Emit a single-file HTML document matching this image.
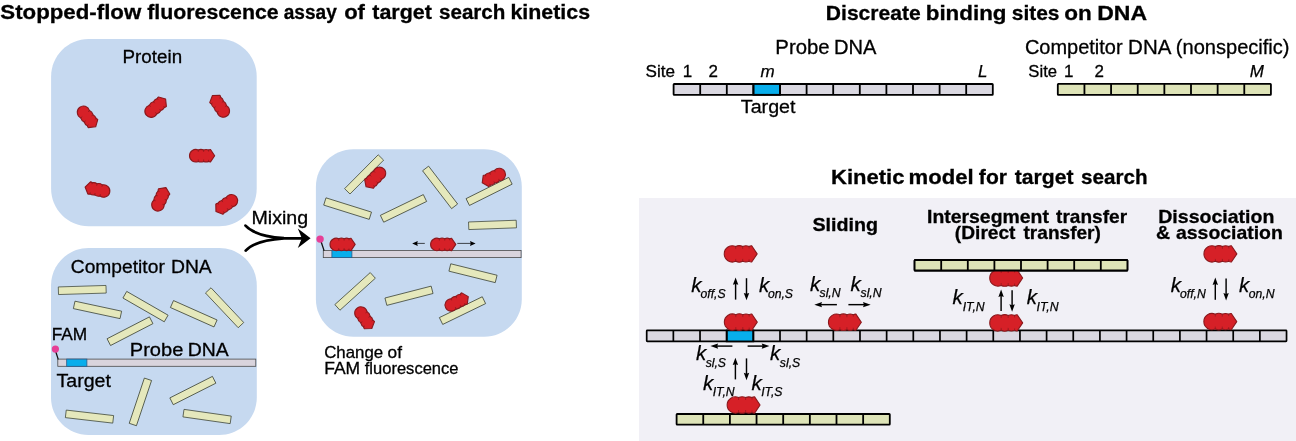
<!DOCTYPE html>
<html lang="en"><head><meta charset="utf-8"><title>Target search kinetics</title>
<style>
html,body{margin:0;padding:0;background:#fff;}
body{width:1296px;height:441px;overflow:hidden;font-family:"Liberation Sans",sans-serif;}
svg{display:block;will-change:transform;}
text{font-family:"Liberation Sans",sans-serif;fill:#000;}
.r{stroke:#000;stroke-width:0.3px}
.b{font-weight:bold;stroke:#000;stroke-width:0.3px}
.i{font-style:italic;stroke:#000;stroke-width:0.25px}
</style></head><body>
<svg width="1296" height="441" viewBox="0 0 1296 441">
<text y="18.7" font-size="20.7" class="b"><tspan x="0.29" textLength="140.95" lengthAdjust="spacingAndGlyphs">Stopped-flow</tspan> <tspan x="147.18" textLength="131.56" lengthAdjust="spacingAndGlyphs">fluorescence</tspan> <tspan x="283.68" textLength="53.09" lengthAdjust="spacingAndGlyphs">assay</tspan> <tspan x="344.17" textLength="20.80" lengthAdjust="spacingAndGlyphs">of</tspan> <tspan x="372.29" textLength="59.65" lengthAdjust="spacingAndGlyphs">target</tspan> <tspan x="438.98" textLength="66.45" lengthAdjust="spacingAndGlyphs">search</tspan> <tspan x="510.46" textLength="79.63" lengthAdjust="spacingAndGlyphs">kinetics</tspan></text>
<path d="M51.1,76.6 C51.1,55.9 67.9,39.1 88.6,39.1 H219.2 C239.89999999999998,39.1 256.7,55.9 256.7,76.6 V188.79999999999998 C256.7,209.5 239.89999999999998,226.29999999999998 219.2,226.29999999999998 H88.6 C67.9,226.29999999999998 51.1,209.5 51.1,188.79999999999998 Z" fill="#c6d9f0"/>
<path d="M51,285.5 C51,264.8 67.8,248 88.5,248 H219.3 C240.0,248 256.8,264.8 256.8,285.5 V397.5 C256.8,418.2 240.0,435 219.3,435 H88.5 C67.8,435 51,418.2 51,397.5 Z" fill="#c6d9f0"/>
<path d="M315.9,186.8 C315.9,166.10000000000002 332.7,149.3 353.4,149.3 H484.29999999999995 C504.99999999999994,149.3 521.8,166.10000000000002 521.8,186.8 V299.3 C521.8,320.0 504.99999999999994,336.8 484.29999999999995,336.8 H353.4 C332.7,336.8 315.9,320.0 315.9,299.3 Z" fill="#c6d9f0"/>
<text x="122.60" y="62.8" font-size="18.7" class="r" textLength="59.50" lengthAdjust="spacingAndGlyphs">Protein</text>
<g transform="translate(87.8,117.4) rotate(50) scale(0.765)"><path d="M-5.4,-7.45 A8,8 0 0 1 1.6,-7.45 A8,8 0 0 1 8,-7.45 Q9.3,-8.25 10.6,-8.1 L16.05,0 L10.6,8.1 Q9.3,8.25 8,7.45 A8,8 0 0 1 1.6,7.45 A8,8 0 0 1 -5.4,7.45 A8.15,8.15 0 1 1 -5.4,-7.45 Z" fill="#d62027" stroke="#8a181c" stroke-width="1.44" stroke-linejoin="round"/><path d="M-5.4,-7.6V-5.4M1.6,-7.6V-5.4M8,-7.6V-5.9M-5.4,7.6V5.4M1.6,7.6V5.4M8,7.6V5.9" fill="none" stroke="#8a181c" stroke-width="1.18" stroke-linecap="round" opacity="0.75"/></g>
<g transform="translate(156.2,106.9) rotate(-40) scale(0.765)"><path d="M-5.4,-7.45 A8,8 0 0 1 1.6,-7.45 A8,8 0 0 1 8,-7.45 Q9.3,-8.25 10.6,-8.1 L16.05,0 L10.6,8.1 Q9.3,8.25 8,7.45 A8,8 0 0 1 1.6,7.45 A8,8 0 0 1 -5.4,7.45 A8.15,8.15 0 1 1 -5.4,-7.45 Z" fill="#d62027" stroke="#8a181c" stroke-width="1.44" stroke-linejoin="round"/><path d="M-5.4,-7.6V-5.4M1.6,-7.6V-5.4M8,-7.6V-5.9M-5.4,7.6V5.4M1.6,7.6V5.4M8,7.6V5.9" fill="none" stroke="#8a181c" stroke-width="1.18" stroke-linecap="round" opacity="0.75"/></g>
<g transform="translate(219.5,105.5) rotate(235) scale(0.765)"><path d="M-5.4,-7.45 A8,8 0 0 1 1.6,-7.45 A8,8 0 0 1 8,-7.45 Q9.3,-8.25 10.6,-8.1 L16.05,0 L10.6,8.1 Q9.3,8.25 8,7.45 A8,8 0 0 1 1.6,7.45 A8,8 0 0 1 -5.4,7.45 A8.15,8.15 0 1 1 -5.4,-7.45 Z" fill="#d62027" stroke="#8a181c" stroke-width="1.44" stroke-linejoin="round"/><path d="M-5.4,-7.6V-5.4M1.6,-7.6V-5.4M8,-7.6V-5.9M-5.4,7.6V5.4M1.6,7.6V5.4M8,7.6V5.9" fill="none" stroke="#8a181c" stroke-width="1.18" stroke-linecap="round" opacity="0.75"/></g>
<g transform="translate(202.4,155.7) rotate(0) scale(0.765)"><path d="M-5.4,-7.45 A8,8 0 0 1 1.6,-7.45 A8,8 0 0 1 8,-7.45 Q9.3,-8.25 10.6,-8.1 L16.05,0 L10.6,8.1 Q9.3,8.25 8,7.45 A8,8 0 0 1 1.6,7.45 A8,8 0 0 1 -5.4,7.45 A8.15,8.15 0 1 1 -5.4,-7.45 Z" fill="#d62027" stroke="#8a181c" stroke-width="1.44" stroke-linejoin="round"/><path d="M-5.4,-7.6V-5.4M1.6,-7.6V-5.4M8,-7.6V-5.9M-5.4,7.6V5.4M1.6,7.6V5.4M8,7.6V5.9" fill="none" stroke="#8a181c" stroke-width="1.18" stroke-linecap="round" opacity="0.75"/></g>
<g transform="translate(97.1,189.6) rotate(192) scale(0.765)"><path d="M-5.4,-7.45 A8,8 0 0 1 1.6,-7.45 A8,8 0 0 1 8,-7.45 Q9.3,-8.25 10.6,-8.1 L16.05,0 L10.6,8.1 Q9.3,8.25 8,7.45 A8,8 0 0 1 1.6,7.45 A8,8 0 0 1 -5.4,7.45 A8.15,8.15 0 1 1 -5.4,-7.45 Z" fill="#d62027" stroke="#8a181c" stroke-width="1.44" stroke-linejoin="round"/><path d="M-5.4,-7.6V-5.4M1.6,-7.6V-5.4M8,-7.6V-5.9M-5.4,7.6V5.4M1.6,7.6V5.4M8,7.6V5.9" fill="none" stroke="#8a181c" stroke-width="1.18" stroke-linecap="round" opacity="0.75"/></g>
<g transform="translate(160.75,198.75) rotate(-65) scale(0.765)"><path d="M-5.4,-7.45 A8,8 0 0 1 1.6,-7.45 A8,8 0 0 1 8,-7.45 Q9.3,-8.25 10.6,-8.1 L16.05,0 L10.6,8.1 Q9.3,8.25 8,7.45 A8,8 0 0 1 1.6,7.45 A8,8 0 0 1 -5.4,7.45 A8.15,8.15 0 1 1 -5.4,-7.45 Z" fill="#d62027" stroke="#8a181c" stroke-width="1.44" stroke-linejoin="round"/><path d="M-5.4,-7.6V-5.4M1.6,-7.6V-5.4M8,-7.6V-5.9M-5.4,7.6V5.4M1.6,7.6V5.4M8,7.6V5.9" fill="none" stroke="#8a181c" stroke-width="1.18" stroke-linecap="round" opacity="0.75"/></g>
<g transform="translate(226,204.5) rotate(145) scale(0.765)"><path d="M-5.4,-7.45 A8,8 0 0 1 1.6,-7.45 A8,8 0 0 1 8,-7.45 Q9.3,-8.25 10.6,-8.1 L16.05,0 L10.6,8.1 Q9.3,8.25 8,7.45 A8,8 0 0 1 1.6,7.45 A8,8 0 0 1 -5.4,7.45 A8.15,8.15 0 1 1 -5.4,-7.45 Z" fill="#d62027" stroke="#8a181c" stroke-width="1.44" stroke-linejoin="round"/><path d="M-5.4,-7.6V-5.4M1.6,-7.6V-5.4M8,-7.6V-5.9M-5.4,7.6V5.4M1.6,7.6V5.4M8,7.6V5.9" fill="none" stroke="#8a181c" stroke-width="1.18" stroke-linecap="round" opacity="0.75"/></g>
<text y="273" font-size="18.8" class="r"><tspan x="70.79" textLength="94.01" lengthAdjust="spacingAndGlyphs">Competitor</tspan> <tspan x="170.95" textLength="40.82" lengthAdjust="spacingAndGlyphs">DNA</tspan></text>
<rect x="-23.85" y="-3.8" width="47.7" height="7.6" transform="translate(82.25,290) rotate(-1.8)" fill="#e5e8bc" stroke="#333a2c" stroke-width="0.7"/>
<rect x="-23.85" y="-3.8" width="47.7" height="7.6" transform="translate(97.5,309.9) rotate(12.1)" fill="#e5e8bc" stroke="#333a2c" stroke-width="0.7"/>
<rect x="-23.85" y="-3.8" width="47.7" height="7.6" transform="translate(145.5,306.6) rotate(29.9)" fill="#e5e8bc" stroke="#333a2c" stroke-width="0.7"/>
<rect x="-23.85" y="-3.8" width="47.7" height="7.6" transform="translate(193.75,313.75) rotate(24)" fill="#e5e8bc" stroke="#333a2c" stroke-width="0.7"/>
<rect x="-23.85" y="-3.8" width="47.7" height="7.6" transform="translate(224.6,307.75) rotate(46.7)" fill="#e5e8bc" stroke="#333a2c" stroke-width="0.7"/>
<rect x="-23.85" y="-3.8" width="47.7" height="7.6" transform="translate(130,331.2) rotate(-27.3)" fill="#e5e8bc" stroke="#333a2c" stroke-width="0.7"/>
<rect x="-23.85" y="-3.8" width="47.7" height="7.6" transform="translate(89.5,416.6) rotate(6.6)" fill="#e5e8bc" stroke="#333a2c" stroke-width="0.7"/>
<rect x="-23.85" y="-3.8" width="47.7" height="7.6" transform="translate(140.4,401.9) rotate(-71.5)" fill="#e5e8bc" stroke="#333a2c" stroke-width="0.7"/>
<rect x="-23.85" y="-3.8" width="47.7" height="7.6" transform="translate(192.85,390.55) rotate(-26.8)" fill="#e5e8bc" stroke="#333a2c" stroke-width="0.7"/>
<rect x="-23.85" y="-3.8" width="47.7" height="7.6" transform="translate(207.1,416.5) rotate(8.1)" fill="#e5e8bc" stroke="#333a2c" stroke-width="0.7"/>
<rect x="57.8" y="359.1" width="198" height="7.2" fill="#d9d4dd" stroke="#4a4a4a" stroke-width="0.8"/>
<rect x="66.7" y="359.1" width="20.2" height="7.2" fill="#08aeec" stroke="#2a5a8a" stroke-width="0.8"/>
<path d="M58.2,359.4 L55.6,351" stroke="#111" stroke-width="1.3" fill="none"/>
<circle cx="55.4" cy="349.1" r="3.6" fill="#e63f96"/>
<text x="51.72" y="339.6" font-size="16.0" class="r" textLength="35.47" lengthAdjust="spacingAndGlyphs">FAM</text>
<text y="356" font-size="18.8" class="r"><tspan x="129.79" textLength="53.58" lengthAdjust="spacingAndGlyphs">Probe</tspan> <tspan x="187.75" textLength="40.88" lengthAdjust="spacingAndGlyphs">DNA</tspan></text>
<text x="56.51" y="386.6" font-size="18.8" class="r" textLength="54.38" lengthAdjust="spacingAndGlyphs">Target</text>
<text x="251.43" y="223.8" font-size="18.8" class="r" textLength="56.74" lengthAdjust="spacingAndGlyphs">Mixing</text>
<path d="M245.5,225.6 C250.5,231 261,236.6 284,238.2 L302,238.3 M245.7,250.6 C250.5,245.2 261,240 284,238.4 L302,238.3" stroke="#000000" stroke-width="2.7" fill="none" stroke-linecap="round"/>
<path d="M310.6,238.3 L297.8,228.6 L301.8,238.3 L297.8,248 Z" fill="#000000"/>
<rect x="-23.85" y="-3.8" width="47.7" height="7.6" transform="translate(364.1,174.4) rotate(-45.2)" fill="#e5e8bc" stroke="#333a2c" stroke-width="0.7"/>
<rect x="-23.85" y="-3.8" width="47.7" height="7.6" transform="translate(440.1,187.4) rotate(52.5)" fill="#e5e8bc" stroke="#333a2c" stroke-width="0.7"/>
<rect x="-23.85" y="-3.8" width="47.7" height="7.6" transform="translate(489.1,191.4) rotate(-26.5)" fill="#e5e8bc" stroke="#333a2c" stroke-width="0.7"/>
<rect x="-23.85" y="-3.8" width="47.7" height="7.6" transform="translate(347.6,208.6) rotate(17.4)" fill="#e5e8bc" stroke="#333a2c" stroke-width="0.7"/>
<rect x="-23.85" y="-3.8" width="47.7" height="7.6" transform="translate(403.5,208.4) rotate(-25.8)" fill="#e5e8bc" stroke="#333a2c" stroke-width="0.7"/>
<rect x="-23.85" y="-3.8" width="47.7" height="7.6" transform="translate(492.5,224.9) rotate(-2.1)" fill="#e5e8bc" stroke="#333a2c" stroke-width="0.7"/>
<rect x="-23.85" y="-3.8" width="47.7" height="7.6" transform="translate(473,273.2) rotate(13.9)" fill="#e5e8bc" stroke="#333a2c" stroke-width="0.7"/>
<rect x="-23.85" y="-3.8" width="47.7" height="7.6" transform="translate(355.1,291.4) rotate(-42.1)" fill="#e5e8bc" stroke="#333a2c" stroke-width="0.7"/>
<rect x="-23.85" y="-3.8" width="47.7" height="7.6" transform="translate(409,295.75) rotate(-14.4)" fill="#e5e8bc" stroke="#333a2c" stroke-width="0.7"/>
<rect x="-23.85" y="-3.8" width="47.7" height="7.6" transform="translate(462.5,310.6) rotate(-25.9)" fill="#e5e8bc" stroke="#333a2c" stroke-width="0.7"/>
<rect x="323.3" y="250.4" width="197.8" height="7.2" fill="#d9d4dd" stroke="#4a4a4a" stroke-width="0.8"/>
<rect x="331.9" y="250.4" width="20" height="7.2" fill="#08aeec" stroke="#2a5a8a" stroke-width="0.8"/>
<path d="M324.1,250.6 L321.2,242" stroke="#111" stroke-width="1.3" fill="none"/>
<circle cx="320.1" cy="239.1" r="3.7" fill="#e63f96"/>
<g transform="translate(374.75,178.1) rotate(135) scale(0.765)"><path d="M-5.4,-7.45 A8,8 0 0 1 1.6,-7.45 A8,8 0 0 1 8,-7.45 Q9.3,-8.25 10.6,-8.1 L16.05,0 L10.6,8.1 Q9.3,8.25 8,7.45 A8,8 0 0 1 1.6,7.45 A8,8 0 0 1 -5.4,7.45 A8.15,8.15 0 1 1 -5.4,-7.45 Z" fill="#d62027" stroke="#8a181c" stroke-width="1.44" stroke-linejoin="round"/><path d="M-5.4,-7.6V-5.4M1.6,-7.6V-5.4M8,-7.6V-5.9M-5.4,7.6V5.4M1.6,7.6V5.4M8,7.6V5.9" fill="none" stroke="#8a181c" stroke-width="1.18" stroke-linecap="round" opacity="0.75"/></g>
<g transform="translate(493.25,177.4) rotate(154) scale(0.765)"><path d="M-5.4,-7.45 A8,8 0 0 1 1.6,-7.45 A8,8 0 0 1 8,-7.45 Q9.3,-8.25 10.6,-8.1 L16.05,0 L10.6,8.1 Q9.3,8.25 8,7.45 A8,8 0 0 1 1.6,7.45 A8,8 0 0 1 -5.4,7.45 A8.15,8.15 0 1 1 -5.4,-7.45 Z" fill="#d62027" stroke="#8a181c" stroke-width="1.44" stroke-linejoin="round"/><path d="M-5.4,-7.6V-5.4M1.6,-7.6V-5.4M8,-7.6V-5.9M-5.4,7.6V5.4M1.6,7.6V5.4M8,7.6V5.9" fill="none" stroke="#8a181c" stroke-width="1.18" stroke-linecap="round" opacity="0.75"/></g>
<g transform="translate(364.75,318.5) rotate(55) scale(0.765)"><path d="M-5.4,-7.45 A8,8 0 0 1 1.6,-7.45 A8,8 0 0 1 8,-7.45 Q9.3,-8.25 10.6,-8.1 L16.05,0 L10.6,8.1 Q9.3,8.25 8,7.45 A8,8 0 0 1 1.6,7.45 A8,8 0 0 1 -5.4,7.45 A8.15,8.15 0 1 1 -5.4,-7.45 Z" fill="#d62027" stroke="#8a181c" stroke-width="1.44" stroke-linejoin="round"/><path d="M-5.4,-7.6V-5.4M1.6,-7.6V-5.4M8,-7.6V-5.9M-5.4,7.6V5.4M1.6,7.6V5.4M8,7.6V5.9" fill="none" stroke="#8a181c" stroke-width="1.18" stroke-linecap="round" opacity="0.75"/></g>
<g transform="translate(457.25,302) rotate(-26) scale(0.765)"><path d="M-5.4,-7.45 A8,8 0 0 1 1.6,-7.45 A8,8 0 0 1 8,-7.45 Q9.3,-8.25 10.6,-8.1 L16.05,0 L10.6,8.1 Q9.3,8.25 8,7.45 A8,8 0 0 1 1.6,7.45 A8,8 0 0 1 -5.4,7.45 A8.15,8.15 0 1 1 -5.4,-7.45 Z" fill="#d62027" stroke="#8a181c" stroke-width="1.44" stroke-linejoin="round"/><path d="M-5.4,-7.6V-5.4M1.6,-7.6V-5.4M8,-7.6V-5.9M-5.4,7.6V5.4M1.6,7.6V5.4M8,7.6V5.9" fill="none" stroke="#8a181c" stroke-width="1.18" stroke-linecap="round" opacity="0.75"/></g>
<g transform="translate(342.9,244.4) rotate(0) scale(0.765)"><path d="M-5.4,-7.45 A8,8 0 0 1 1.6,-7.45 A8,8 0 0 1 8,-7.45 Q9.3,-8.25 10.6,-8.1 L16.05,0 L10.6,8.1 Q9.3,8.25 8,7.45 A8,8 0 0 1 1.6,7.45 A8,8 0 0 1 -5.4,7.45 A8.15,8.15 0 1 1 -5.4,-7.45 Z" fill="#d62027" stroke="#8a181c" stroke-width="1.44" stroke-linejoin="round"/><path d="M-5.4,-7.6V-5.4M1.6,-7.6V-5.4M8,-7.6V-5.9M-5.4,7.6V5.4M1.6,7.6V5.4M8,7.6V5.9" fill="none" stroke="#8a181c" stroke-width="1.18" stroke-linecap="round" opacity="0.75"/></g>
<g transform="translate(443.5,244.4) rotate(0) scale(0.765)"><path d="M-5.4,-7.45 A8,8 0 0 1 1.6,-7.45 A8,8 0 0 1 8,-7.45 Q9.3,-8.25 10.6,-8.1 L16.05,0 L10.6,8.1 Q9.3,8.25 8,7.45 A8,8 0 0 1 1.6,7.45 A8,8 0 0 1 -5.4,7.45 A8.15,8.15 0 1 1 -5.4,-7.45 Z" fill="#d62027" stroke="#8a181c" stroke-width="1.44" stroke-linejoin="round"/><path d="M-5.4,-7.6V-5.4M1.6,-7.6V-5.4M8,-7.6V-5.9M-5.4,7.6V5.4M1.6,7.6V5.4M8,7.6V5.9" fill="none" stroke="#8a181c" stroke-width="1.18" stroke-linecap="round" opacity="0.75"/></g>
<path d="M424.8,243.4H416.68" stroke="#000000" stroke-width="0.7" fill="none"/>
<path d="M412.2,243.4L417.8,240.9L417.128,243.4L417.8,245.9Z" fill="#000000"/>
<path d="M457.3,243.4H471.12" stroke="#000000" stroke-width="0.7" fill="none"/>
<path d="M475.6,243.4L470.0,240.9L470.672,243.4L470.0,245.9Z" fill="#000000"/>
<text y="357.6" font-size="16.2" class="r"><tspan x="324.16" textLength="58.97" lengthAdjust="spacingAndGlyphs">Change</tspan> <tspan x="387.61" textLength="14.37" lengthAdjust="spacingAndGlyphs">of</tspan></text>
<text y="373.6" font-size="16.2" class="r"><tspan x="324.20" textLength="35.91" lengthAdjust="spacingAndGlyphs">FAM</tspan> <tspan x="364.79" textLength="93.71" lengthAdjust="spacingAndGlyphs">fluorescence</tspan></text>
<text y="19.5" font-size="20.8" class="b"><tspan x="825.83" textLength="94.87" lengthAdjust="spacingAndGlyphs">Discreate</tspan> <tspan x="925.75" textLength="80.71" lengthAdjust="spacingAndGlyphs">binding</tspan> <tspan x="1011.77" textLength="47.76" lengthAdjust="spacingAndGlyphs">sites</tspan> <tspan x="1064.15" textLength="27.54" lengthAdjust="spacingAndGlyphs">on</tspan> <tspan x="1097.20" textLength="49.85" lengthAdjust="spacingAndGlyphs">DNA</tspan></text>
<text y="53.5" font-size="19.8" class="r"><tspan x="775.37" textLength="54.26" lengthAdjust="spacingAndGlyphs">Probe</tspan> <tspan x="834.14" textLength="42.38" lengthAdjust="spacingAndGlyphs">DNA</tspan></text>
<text y="53.6" font-size="19.8" class="r"><tspan x="1024.90" textLength="97.71" lengthAdjust="spacingAndGlyphs">Competitor</tspan> <tspan x="1128.10" textLength="42.12" lengthAdjust="spacingAndGlyphs">DNA</tspan> <tspan x="1175.80" textLength="113.74" lengthAdjust="spacingAndGlyphs">(nonspecific)</tspan></text>
<text x="645.63" y="76.9" font-size="16" class="r" textLength="29.41" lengthAdjust="spacingAndGlyphs">Site</text>
<text x="682.86" y="76.9" font-size="16" class="r" textLength="9.43" lengthAdjust="spacingAndGlyphs">1</text>
<text x="708.52" y="76.9" font-size="16" class="r" textLength="9.43" lengthAdjust="spacingAndGlyphs">2</text>
<text x="760.54" y="76.9" font-size="16" class="i" textLength="14.13" lengthAdjust="spacingAndGlyphs">m</text>
<text x="977.91" y="76.9" font-size="16" class="i" textLength="9.43" lengthAdjust="spacingAndGlyphs">L</text>
<text x="1028.35" y="76.9" font-size="16" class="r" textLength="28.67" lengthAdjust="spacingAndGlyphs">Site</text>
<text x="1063.91" y="76.9" font-size="16" class="r" textLength="9.43" lengthAdjust="spacingAndGlyphs">1</text>
<text x="1094.57" y="76.9" font-size="16" class="r" textLength="9.43" lengthAdjust="spacingAndGlyphs">2</text>
<text x="1249.66" y="76.9" font-size="16" class="i" textLength="14.13" lengthAdjust="spacingAndGlyphs">M</text>
<rect x="673.6" y="84.0" width="319.20000000000005" height="10.8" rx="0.6" fill="#dad8e1" stroke="#000000" stroke-width="1.8"/>
<rect x="753.4000000000001" y="84.0" width="26.6" height="10.8" fill="#08aeec" stroke="#000000" stroke-width="1.8"/>
<path d="M700.20,84.0v10.8M726.80,84.0v10.8M753.40,84.0v10.8M780.00,84.0v10.8M806.60,84.0v10.8M833.20,84.0v10.8M859.80,84.0v10.8M886.40,84.0v10.8M913.00,84.0v10.8M939.60,84.0v10.8M966.20,84.0v10.8" stroke="#000000" stroke-width="1.8" fill="none"/>
<rect x="1057.8" y="83.9" width="213.12" height="10.9" rx="0.6" fill="#dee4b8" stroke="#000000" stroke-width="1.8"/>
<path d="M1084.44,83.9v10.9M1111.08,83.9v10.9M1137.72,83.9v10.9M1164.36,83.9v10.9M1191.00,83.9v10.9M1217.64,83.9v10.9M1244.28,83.9v10.9" stroke="#000000" stroke-width="1.8" fill="none"/>
<text x="740.81" y="113.0" font-size="19.2" class="r" textLength="54.68" lengthAdjust="spacingAndGlyphs">Target</text>
<text y="183.6" font-size="20.8" class="b"><tspan x="830.97" textLength="73.47" lengthAdjust="spacingAndGlyphs">Kinetic</tspan> <tspan x="908.57" textLength="64.98" lengthAdjust="spacingAndGlyphs">model</tspan> <tspan x="978.88" textLength="28.09" lengthAdjust="spacingAndGlyphs">for</tspan> <tspan x="1014.79" textLength="58.74" lengthAdjust="spacingAndGlyphs">target</tspan> <tspan x="1080.98" textLength="66.56" lengthAdjust="spacingAndGlyphs">search</tspan></text>
<rect x="639" y="198" width="657" height="243" fill="#f1f0f6"/>
<text x="812.46" y="231.2" font-size="19.0" class="b" textLength="65.58" lengthAdjust="spacingAndGlyphs">Sliding</text>
<text y="222.5" font-size="19.0" class="b"><tspan x="927.04" textLength="121.85" lengthAdjust="spacingAndGlyphs">Intersegment</tspan> <tspan x="1056.11" textLength="70.95" lengthAdjust="spacingAndGlyphs">transfer</tspan></text>
<text y="239.1" font-size="19.0" class="b"><tspan x="954.89" textLength="60.60" lengthAdjust="spacingAndGlyphs">(Direct</tspan> <tspan x="1023.51" textLength="77.38" lengthAdjust="spacingAndGlyphs">transfer)</tspan></text>
<text x="1158.23" y="222.5" font-size="19.0" class="b" textLength="116.21" lengthAdjust="spacingAndGlyphs">Dissociation</text>
<text y="239.1" font-size="19.0" class="b"><tspan x="1155.97" textLength="14.11" lengthAdjust="spacingAndGlyphs">&amp;</tspan> <tspan x="1175.97" textLength="106.89" lengthAdjust="spacingAndGlyphs">association</tspan></text>
<rect x="646.7" y="330.4" width="639.84" height="11.0" rx="0.6" fill="#dad8e1" stroke="#000000" stroke-width="1.7"/>
<rect x="726.6800000000001" y="330.4" width="26.66" height="11.0" fill="#08aeec" stroke="#000000" stroke-width="1.7"/>
<path d="M673.36,330.4v11.0M700.02,330.4v11.0M726.68,330.4v11.0M753.34,330.4v11.0M780.00,330.4v11.0M806.66,330.4v11.0M833.32,330.4v11.0M859.98,330.4v11.0M886.64,330.4v11.0M913.30,330.4v11.0M939.96,330.4v11.0M966.62,330.4v11.0M993.28,330.4v11.0M1019.94,330.4v11.0M1046.60,330.4v11.0M1073.26,330.4v11.0M1099.92,330.4v11.0M1126.58,330.4v11.0M1153.24,330.4v11.0M1179.90,330.4v11.0M1206.56,330.4v11.0M1233.22,330.4v11.0M1259.88,330.4v11.0" stroke="#000000" stroke-width="1.7" fill="none"/>
<rect x="676.6" y="414.0" width="213.2" height="10.7" rx="0.6" fill="#dee4b8" stroke="#000000" stroke-width="1.8"/>
<path d="M703.25,414.0v10.7M729.90,414.0v10.7M756.55,414.0v10.7M783.20,414.0v10.7M809.85,414.0v10.7M836.50,414.0v10.7M863.15,414.0v10.7" stroke="#000000" stroke-width="1.8" fill="none"/>
<rect x="914.6" y="260.0" width="212.8" height="10.5" rx="0.6" fill="#dee4b8" stroke="#000000" stroke-width="1.8"/>
<path d="M941.20,260.0v10.5M967.80,260.0v10.5M994.40,260.0v10.5M1021.00,260.0v10.5M1047.60,260.0v10.5M1074.20,260.0v10.5M1100.80,260.0v10.5" stroke="#000000" stroke-width="1.8" fill="none"/>
<text class="i"><tspan x="691.29" y="291.6" font-size="20.5">k</tspan><tspan x="700.50" y="298.0" font-size="12.2">off,S</tspan></text>
<text class="i"><tspan x="758.99" y="291.6" font-size="20.5">k</tspan><tspan x="767.90" y="298.0" font-size="12.2">on,S</tspan></text>
<text class="i"><tspan x="810.09" y="290.6" font-size="20.5">k</tspan><tspan x="819.57" y="297.0" font-size="12.2">sl,N</tspan></text>
<text class="i"><tspan x="850.59" y="290.6" font-size="20.5">k</tspan><tspan x="860.57" y="297.0" font-size="12.2">sl,N</tspan></text>
<text class="i"><tspan x="695.99" y="360.1" font-size="20.5">k</tspan><tspan x="705.67" y="366.5" font-size="12.2">sl,S</tspan></text>
<text class="i"><tspan x="770.09" y="360.1" font-size="20.5">k</tspan><tspan x="779.87" y="366.5" font-size="12.2">sl,S</tspan></text>
<text class="i"><tspan x="702.99" y="389.7" font-size="20.5">k</tspan><tspan x="712.74" y="396.1" font-size="12.2">IT,N</tspan></text>
<text class="i"><tspan x="751.49" y="389.7" font-size="20.5">k</tspan><tspan x="761.24" y="396.1" font-size="12.2">IT,S</tspan></text>
<text class="i"><tspan x="952.59" y="304.2" font-size="20.5">k</tspan><tspan x="962.74" y="310.6" font-size="12.2">IT,N</tspan></text>
<text class="i"><tspan x="1026.79" y="304.2" font-size="20.5">k</tspan><tspan x="1036.54" y="310.6" font-size="12.2">IT,N</tspan></text>
<text class="i"><tspan x="1170.69" y="292" font-size="20.5">k</tspan><tspan x="1180.00" y="298.4" font-size="12.2">off,N</tspan></text>
<text class="i"><tspan x="1239.09" y="292" font-size="20.5">k</tspan><tspan x="1248.80" y="298.4" font-size="12.2">on,N</tspan></text>
<path d="M735.6,299.6V283.32" stroke="#000000" stroke-width="1.45" fill="none"/>
<path d="M735.6,277.4L732.9,284.79999999999995L735.6,283.912L738.3000000000001,284.79999999999995Z" fill="#000000"/>
<path d="M746.5,278.2V294.38" stroke="#000000" stroke-width="1.45" fill="none"/>
<path d="M746.5,300.3L743.8,292.90000000000003L746.5,293.788L749.2,292.90000000000003Z" fill="#000000"/>
<path d="M836.9,304.65H820.4599999999999" stroke="#000000" stroke-width="1.45" fill="none"/>
<path d="M814.3,304.65L822.0,301.95L821.0759999999999,304.65L822.0,307.34999999999997Z" fill="#000000"/>
<path d="M848.4,304.65H864.5400000000001" stroke="#000000" stroke-width="1.45" fill="none"/>
<path d="M870.7,304.65L863.0,301.95L863.9240000000001,304.65L863.0,307.34999999999997Z" fill="#000000"/>
<path d="M732.4,346.1H716.56" stroke="#000000" stroke-width="1.45" fill="none"/>
<path d="M710.4,346.1L718.1,343.40000000000003L717.1759999999999,346.1L718.1,348.8Z" fill="#000000"/>
<path d="M747.6,346.1H763.24" stroke="#000000" stroke-width="1.45" fill="none"/>
<path d="M769.4,346.1L761.6999999999999,343.40000000000003L762.624,346.1L761.6999999999999,348.8Z" fill="#000000"/>
<path d="M735.4,379.4V363.62" stroke="#000000" stroke-width="1.45" fill="none"/>
<path d="M735.4,357.7L732.6999999999999,365.09999999999997L735.4,364.212L738.1,365.09999999999997Z" fill="#000000"/>
<path d="M746.5,358.4V374.28" stroke="#000000" stroke-width="1.45" fill="none"/>
<path d="M746.5,380.2L743.8,372.8L746.5,373.688L749.2,372.8Z" fill="#000000"/>
<path d="M1001.1,311V295.52000000000004" stroke="#000000" stroke-width="1.45" fill="none"/>
<path d="M1001.1,289.6L998.4,297.0L1001.1,296.112L1003.8000000000001,297.0Z" fill="#000000"/>
<path d="M1012.1,290.2V305.78" stroke="#000000" stroke-width="1.45" fill="none"/>
<path d="M1012.1,311.7L1009.4,304.3L1012.1,305.188L1014.8000000000001,304.3Z" fill="#000000"/>
<path d="M1215.3,299.8V283.52000000000004" stroke="#000000" stroke-width="1.45" fill="none"/>
<path d="M1215.3,277.6L1212.6,285.0L1215.3,284.112L1218.0,285.0Z" fill="#000000"/>
<path d="M1226.1,278.4V294.58" stroke="#000000" stroke-width="1.45" fill="none"/>
<path d="M1226.1,300.5L1223.3999999999999,293.1L1226.1,293.988L1228.8,293.1Z" fill="#000000"/>
<g transform="translate(741.1,253.9) rotate(0) scale(1)"><path d="M-5.4,-7.45 A8,8 0 0 1 1.6,-7.45 A8,8 0 0 1 8,-7.45 Q9.3,-8.25 10.6,-8.1 L16.05,0 L10.6,8.1 Q9.3,8.25 8,7.45 A8,8 0 0 1 1.6,7.45 A8,8 0 0 1 -5.4,7.45 A8.15,8.15 0 1 1 -5.4,-7.45 Z" fill="#d62027" stroke="#8a181c" stroke-width="1.10" stroke-linejoin="round"/><path d="M-5.4,-7.6V-5.4M1.6,-7.6V-5.4M8,-7.6V-5.9M-5.4,7.6V5.4M1.6,7.6V5.4M8,7.6V5.9" fill="none" stroke="#8a181c" stroke-width="0.90" stroke-linecap="round" opacity="0.75"/></g>
<g transform="translate(741.2,322.1) rotate(0) scale(1)"><path d="M-5.4,-7.45 A8,8 0 0 1 1.6,-7.45 A8,8 0 0 1 8,-7.45 Q9.3,-8.25 10.6,-8.1 L16.05,0 L10.6,8.1 Q9.3,8.25 8,7.45 A8,8 0 0 1 1.6,7.45 A8,8 0 0 1 -5.4,7.45 A8.15,8.15 0 1 1 -5.4,-7.45 Z" fill="#d62027" stroke="#8a181c" stroke-width="1.10" stroke-linejoin="round"/><path d="M-5.4,-7.6V-5.4M1.6,-7.6V-5.4M8,-7.6V-5.9M-5.4,7.6V5.4M1.6,7.6V5.4M8,7.6V5.9" fill="none" stroke="#8a181c" stroke-width="0.90" stroke-linecap="round" opacity="0.75"/></g>
<g transform="translate(845.3,322.2) rotate(0) scale(1)"><path d="M-5.4,-7.45 A8,8 0 0 1 1.6,-7.45 A8,8 0 0 1 8,-7.45 Q9.3,-8.25 10.6,-8.1 L16.05,0 L10.6,8.1 Q9.3,8.25 8,7.45 A8,8 0 0 1 1.6,7.45 A8,8 0 0 1 -5.4,7.45 A8.15,8.15 0 1 1 -5.4,-7.45 Z" fill="#d62027" stroke="#8a181c" stroke-width="1.10" stroke-linejoin="round"/><path d="M-5.4,-7.6V-5.4M1.6,-7.6V-5.4M8,-7.6V-5.9M-5.4,7.6V5.4M1.6,7.6V5.4M8,7.6V5.9" fill="none" stroke="#8a181c" stroke-width="0.90" stroke-linecap="round" opacity="0.75"/></g>
<g transform="translate(744.0,405.0) rotate(0) scale(1)"><path d="M-5.4,-7.45 A8,8 0 0 1 1.6,-7.45 A8,8 0 0 1 8,-7.45 Q9.3,-8.25 10.6,-8.1 L16.05,0 L10.6,8.1 Q9.3,8.25 8,7.45 A8,8 0 0 1 1.6,7.45 A8,8 0 0 1 -5.4,7.45 A8.15,8.15 0 1 1 -5.4,-7.45 Z" fill="#d62027" stroke="#8a181c" stroke-width="1.10" stroke-linejoin="round"/><path d="M-5.4,-7.6V-5.4M1.6,-7.6V-5.4M8,-7.6V-5.9M-5.4,7.6V5.4M1.6,7.6V5.4M8,7.6V5.9" fill="none" stroke="#8a181c" stroke-width="0.90" stroke-linecap="round" opacity="0.75"/></g>
<g transform="translate(1006.6,278) rotate(0) scale(1)"><path d="M-5.4,-7.45 A8,8 0 0 1 1.6,-7.45 A8,8 0 0 1 8,-7.45 Q9.3,-8.25 10.6,-8.1 L16.05,0 L10.6,8.1 Q9.3,8.25 8,7.45 A8,8 0 0 1 1.6,7.45 A8,8 0 0 1 -5.4,7.45 A8.15,8.15 0 1 1 -5.4,-7.45 Z" fill="#d62027" stroke="#8a181c" stroke-width="1.10" stroke-linejoin="round"/><path d="M-5.4,-7.6V-5.4M1.6,-7.6V-5.4M8,-7.6V-5.9M-5.4,7.6V5.4M1.6,7.6V5.4M8,7.6V5.9" fill="none" stroke="#8a181c" stroke-width="0.90" stroke-linecap="round" opacity="0.75"/></g>
<g transform="translate(1006.6,322.9) rotate(0) scale(1)"><path d="M-5.4,-7.45 A8,8 0 0 1 1.6,-7.45 A8,8 0 0 1 8,-7.45 Q9.3,-8.25 10.6,-8.1 L16.05,0 L10.6,8.1 Q9.3,8.25 8,7.45 A8,8 0 0 1 1.6,7.45 A8,8 0 0 1 -5.4,7.45 A8.15,8.15 0 1 1 -5.4,-7.45 Z" fill="#d62027" stroke="#8a181c" stroke-width="1.10" stroke-linejoin="round"/><path d="M-5.4,-7.6V-5.4M1.6,-7.6V-5.4M8,-7.6V-5.9M-5.4,7.6V5.4M1.6,7.6V5.4M8,7.6V5.9" fill="none" stroke="#8a181c" stroke-width="0.90" stroke-linecap="round" opacity="0.75"/></g>
<g transform="translate(1220.8,253.9) rotate(0) scale(1)"><path d="M-5.4,-7.45 A8,8 0 0 1 1.6,-7.45 A8,8 0 0 1 8,-7.45 Q9.3,-8.25 10.6,-8.1 L16.05,0 L10.6,8.1 Q9.3,8.25 8,7.45 A8,8 0 0 1 1.6,7.45 A8,8 0 0 1 -5.4,7.45 A8.15,8.15 0 1 1 -5.4,-7.45 Z" fill="#d62027" stroke="#8a181c" stroke-width="1.10" stroke-linejoin="round"/><path d="M-5.4,-7.6V-5.4M1.6,-7.6V-5.4M8,-7.6V-5.9M-5.4,7.6V5.4M1.6,7.6V5.4M8,7.6V5.9" fill="none" stroke="#8a181c" stroke-width="0.90" stroke-linecap="round" opacity="0.75"/></g>
<g transform="translate(1220.7,321.6) rotate(0) scale(1)"><path d="M-5.4,-7.45 A8,8 0 0 1 1.6,-7.45 A8,8 0 0 1 8,-7.45 Q9.3,-8.25 10.6,-8.1 L16.05,0 L10.6,8.1 Q9.3,8.25 8,7.45 A8,8 0 0 1 1.6,7.45 A8,8 0 0 1 -5.4,7.45 A8.15,8.15 0 1 1 -5.4,-7.45 Z" fill="#d62027" stroke="#8a181c" stroke-width="1.10" stroke-linejoin="round"/><path d="M-5.4,-7.6V-5.4M1.6,-7.6V-5.4M8,-7.6V-5.9M-5.4,7.6V5.4M1.6,7.6V5.4M8,7.6V5.9" fill="none" stroke="#8a181c" stroke-width="0.90" stroke-linecap="round" opacity="0.75"/></g>
<rect x="914.6" y="260.0" width="212.8" height="10.5" rx="0.6" fill="#dee4b8" stroke="#000000" stroke-width="1.8"/>
<path d="M941.20,260.0v10.5M967.80,260.0v10.5M994.40,260.0v10.5M1021.00,260.0v10.5M1047.60,260.0v10.5M1074.20,260.0v10.5M1100.80,260.0v10.5" stroke="#000000" stroke-width="1.8" fill="none"/>
</svg>
</body></html>
